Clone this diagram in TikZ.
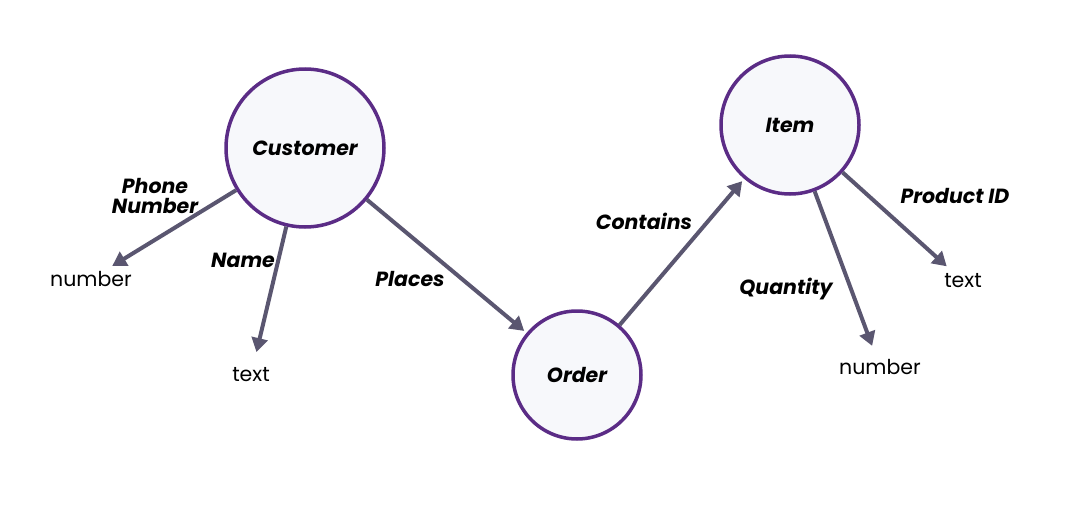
\documentclass[tikz,border=0pt]{standalone}
\usepackage{fontspec}
\setmainfont{Poppins}
\usetikzlibrary{arrows.meta}
\definecolor{ring}{HTML}{5B2C86}
\definecolor{fillc}{HTML}{F7F8FB}
\definecolor{edge}{HTML}{5A5670}
\begin{document}
\begin{tikzpicture}[x=1pt,y=-1pt,
  ent/.style={circle,draw=ring,fill=fillc,line width=3.5pt,inner sep=0pt,font=\bfseries\itshape\fontsize{20.5}{24}\selectfont},
  val/.style={font=\fontsize{20.5}{24}\selectfont,inner sep=2pt},
  lab/.style={font=\bfseries\itshape\fontsize{20.5}{24}\selectfont,align=center},
  arr/.style={draw=edge,line width=4pt,-{Triangle[length=14pt,width=16pt]}}]
\useasboundingbox (0,0) rectangle (1072,506);
\node[ent,minimum size=158pt] (cust) at (305,148) {Customer};
\node[ent,minimum size=138pt] (item) at (790,125) {Item};
\node[ent,minimum size=128pt] (order) at (577,375) {Order};
\node[val] (n1) at (91,279) {number};
\node[val] (t1) at (251,375) {text};
\node[val] (n2) at (880,367) {number};
\node[val] (t2) at (963,281) {text};
\draw[arr,shorten >=6pt] (cust) -- (n1);
\draw[arr,shorten >=14pt] (cust) -- (t1);
\draw[arr,shorten >=3pt] (cust) -- (order);
\draw[arr,shorten >=3pt] (order) -- (item);
\draw[arr,shorten >=12pt] (item) -- (n2);
\draw[arr,shorten >=8pt] (item) -- (t2);
\node[lab] at (155,196) {Phone\\[-4pt]Number};
\node[lab] at (243,260) {Name};
\node[lab] at (410,279) {Places};
\node[lab] at (644,221) {Contains};
\node[lab] at (786,289) {Quantity};
\node[lab] at (955,196) {Product ID};
\end{tikzpicture}
\end{document}
